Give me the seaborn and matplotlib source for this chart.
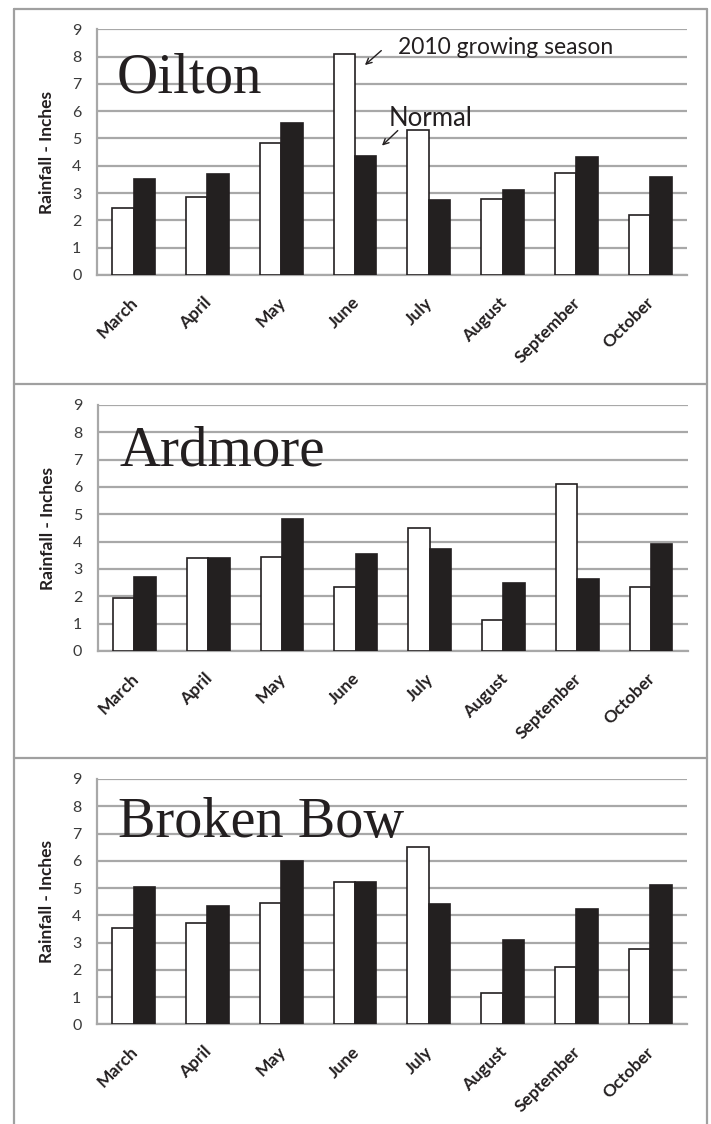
import matplotlib
matplotlib.use("Agg")
import matplotlib.pyplot as plt
import matplotlib.transforms as mtransforms
from matplotlib.lines import Line2D
import pandas as pd
import seaborn as sns

# Monthly rainfall (inches): 2010 growing season vs. long-term normal
months = ["March", "April", "May", "June", "July", "August", "September", "October"]
stations = ["Oilton", "Ardmore", "Broken Bow"]
series_labels = ["2010 growing season", "Normal"]

oilton_2010 = [2.45, 2.85, 4.82, 8.10, 5.30, 2.77, 3.75, 2.20]
oilton_normal = [3.50, 3.70, 5.58, 4.37, 2.75, 3.11, 4.31, 3.60]
ardmore_2010 = [1.95, 3.41, 3.45, 2.35, 4.51, 1.15, 6.11, 2.33]
ardmore_normal = [2.69, 3.39, 4.82, 3.55, 3.73, 2.48, 2.63, 3.90]
broken_bow_2010 = [3.52, 3.73, 4.46, 5.23, 6.52, 1.16, 2.09, 2.75]
broken_bow_normal = [5.05, 4.34, 6.00, 5.21, 4.40, 3.09, 4.22, 5.11]

y_ticks = [0, 1, 2, 3, 4, 5, 6, 7, 8, 9]
y_label = "Rainfall - Inches"

station_series = {
    "Oilton": (oilton_2010, oilton_normal),
    "Ardmore": (ardmore_2010, ardmore_normal),
    "Broken Bow": (broken_bow_2010, broken_bow_normal),
}

sns.set_style("white")
plt.rcParams["font.family"] = ["Lato", "DejaVu Sans"]

W, H = 711, 1124
fig = plt.figure(figsize=(W / 100, H / 100), dpi=100)
fig.patch.set_facecolor("white")

INK = "#231f20"
GRID = "#a8a8a8"


def fx(px):
    return px / W


def fy(py):
    return 1 - py / H


# axes boxes in pixel units: (left, top, right, bottom)
boxes = [
    (96.7, 29.3, 687.0, 275.0),
    (97.5, 405.0, 688.0, 651.0),
    (96.7, 779.0, 687.0, 1024.3),
]
title_pos = [(-0.23, 6.70), (-0.20, 6.80), (-0.215, 6.87)]
title_size = [41, 41, 40.5]

for name, (l, t, r, b), (tx, ty), tsize in zip(stations, boxes, title_pos, title_size):
    s2010, snorm = station_series[name]
    df = pd.DataFrame({
        "month": months * 2,
        "rain": list(s2010) + list(snorm),
        "series": [series_labels[0]] * len(months) + [series_labels[1]] * len(months),
    })
    ax = fig.add_axes([fx(l), fy(b), fx(r) - fx(l), fy(t) - fy(b)])
    sns.barplot(data=df, x="month", y="rain", hue="series", order=months,
                hue_order=series_labels, palette=["white", INK], width=0.58,
                edgecolor=INK, linewidth=1.2, legend=False, ax=ax, zorder=3)
    ax.set_xlim(-0.5, len(months) - 0.5)
    ax.set_ylim(0, 9)
    ax.set_yticks(y_ticks)
    ax.yaxis.grid(True, color=GRID, linewidth=1.6)
    ax.xaxis.grid(False)
    ax.set_axisbelow(True)
    for side in ("top", "right"):
        ax.spines[side].set_visible(False)
    for side in ("left", "bottom"):
        ax.spines[side].set_color(GRID)
        ax.spines[side].set_linewidth(1.6)
    ax.tick_params(axis="y", length=6, width=1.6, color=GRID, labelsize=11.5,
                   labelcolor="#3a3a3a", pad=5)
    ax.set_xticks(range(len(months)))
    ax.set_xticks([i - 0.5 for i in range(len(months) + 1)], minor=True)
    ax.tick_params(axis="x", which="major", length=0, pad=14)
    ax.tick_params(axis="x", which="minor", length=5, width=1.6, color=GRID)
    offset = mtransforms.ScaledTranslation(-4 / 100, 0, fig.dpi_scale_trans)
    ax.set_xticklabels(months, rotation=45, ha="right", va="top",
                       rotation_mode="anchor", fontsize=12.5, fontweight="bold",
                       color=INK)
    for lab in ax.get_xticklabels():
        lab.set_transform(lab.get_transform() + offset)
    ax.set_xlabel("")
    ax.set_ylabel(y_label, fontsize=12.5, fontweight="bold", color=INK)
    ax.yaxis.set_label_coords(-0.071, 0.5)
    ax.text(tx, ty, name, family="Liberation Serif", fontsize=tsize, color=INK,
            ha="left", va="baseline", zorder=5)

    if name == "Oilton":
        ax.text(3.58, 8.10, series_labels[0], fontsize=16.5, color=INK,
                ha="left", va="baseline", zorder=5)
        ax.annotate("", xy=(3.135, 7.69), xytext=(3.357, 8.22),
                    arrowprops=dict(arrowstyle="->", lw=1.0, color=INK,
                                    shrinkA=0, shrinkB=0), zorder=5)
        ax.text(3.46, 5.46, series_labels[1], fontsize=18.5, color=INK,
                ha="left", va="baseline", zorder=5)
        ax.annotate("", xy=(3.366, 4.74), xytext=(3.58, 5.29),
                    arrowprops=dict(arrowstyle="->", lw=1.0, color=INK,
                                    shrinkA=0, shrinkB=0), zorder=5)

# panel frames
frame_kw = dict(color="#a0a0a0", linewidth=1.6, transform=fig.transFigure)
for x in (14, 707):
    fig.add_artist(Line2D([fx(x), fx(x)], [fy(9), fy(H)], **frame_kw))
for y in (9, 384, 758):
    fig.add_artist(Line2D([fx(14), fx(707)], [fy(y), fy(y)], **frame_kw))

fig.savefig("out.png", dpi=100, facecolor="white")
